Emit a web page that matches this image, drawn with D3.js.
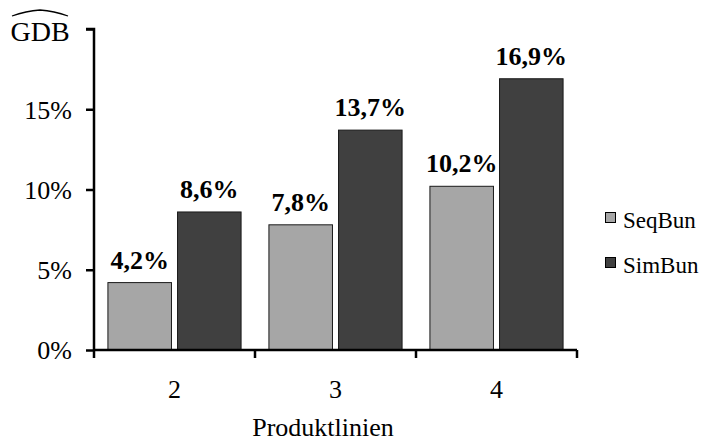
<!DOCTYPE html>
<html><head><meta charset="utf-8">
<script src="https://cdn.jsdelivr.net/npm/d3@7"></script>
<style>body{margin:0;background:#fff}svg{display:block}text{font-family:"Liberation Serif","Times New Roman",serif}</style>
</head><body><svg id="c" width="702" height="443"></svg>
<script>
const categories = ["2","3","4"];
const seriesNames = ["SeqBun","SimBun"];
const seqBun = [4.2, 7.8, 10.2];
const simBun = [8.6, 13.7, 16.9];
const yTicks = [0,5,10,15,20];
const colors = ["#a6a6a6","#404040"];

const svg = d3.select("#c");
const x0 = 94, x1 = 577, yb = 350, yt = 29;
const x = d3.scaleBand().domain(categories).range([x0,x1]).paddingInner(0).paddingOuter(0);
const xs = d3.scaleBand().domain(seriesNames).range([0,x.bandwidth()]).paddingInner(0.087).paddingOuter(0.2);
const y = d3.scaleLinear().domain([0,20]).range([yb,yt]);
const data = categories.map((c,i)=>({c, v:[seqBun[i], simBun[i]]}));

const g = svg.append("g");
data.forEach(d=>{
  d.v.forEach((v,j)=>{
    const bx = x(d.c)+xs(seriesNames[j]);
    g.append("rect").attr("x",bx).attr("y",y(v)).attr("width",xs.bandwidth()).attr("height",yb-y(v))
      .attr("fill",colors[j]).attr("stroke","#1a1a1a").attr("stroke-width",1);
    g.append("text").attr("x",bx+xs.bandwidth()/2).attr("y",y(v)-14).attr("text-anchor","middle")
      .attr("font-size",26).attr("font-weight","bold").text(v.toFixed(1).replace(".",",")+"%");
  });
});

// y axis
const ya = svg.append("g").attr("transform",`translate(${x0},0)`)
  .call(d3.axisLeft(y).tickValues(yTicks).tickSize(8).tickFormat(d=> d===20 ? "" : d+"%"));
ya.select(".domain").attr("stroke","#000").attr("stroke-width",2.5).attr("d",`M-8,${yt}H0V${yb}`);
ya.selectAll(".tick line").attr("stroke","#000").attr("stroke-width",2.5);
ya.selectAll(".tick text").attr("font-size",26).attr("font-family","Liberation Serif").attr("fill","#000").attr("x",-22).attr("dy","0.34em");

// x axis
const xa = svg.append("g").attr("transform",`translate(0,${yb})`)
  .call(d3.axisBottom(x).tickSize(0).tickFormat(d=>d));
xa.select(".domain").attr("stroke","#000").attr("stroke-width",2.5).attr("d",`M${x0},0H${x1}`);
xa.selectAll(".tick text").attr("font-size",26).attr("font-family","Liberation Serif").attr("fill","#000").attr("y",48).attr("dy",0);
[...categories.map(c=>x(c)), x1].forEach(px=>{
  xa.append("line").attr("x1",px).attr("x2",px).attr("y1",0).attr("y2",8).attr("stroke","#000").attr("stroke-width",2.5);
});

// y label GDB with hat
svg.append("text").attr("x",40).attr("y",41).attr("text-anchor","middle").attr("font-size",28).text("GDB");
svg.append("path").attr("d","M12,16 Q26,11 40,10 Q54,11 68,16").attr("fill","none").attr("stroke","#000").attr("stroke-width",1.3);

// x title
svg.append("text").attr("x",323).attr("y",436).attr("text-anchor","middle").attr("font-size",26).text("Produktlinien");

// legend
seriesNames.forEach((n,i)=>{
  const ly = 212 + i*45;
  svg.append("rect").attr("x",605.5).attr("y",ly+0.5).attr("width",10).attr("height",10).attr("fill",colors[i]).attr("stroke","#000").attr("stroke-width",1);
  svg.append("text").attr("x",623).attr("y",ly+16).attr("font-size",23).text(n);
});
</script></body></html>
